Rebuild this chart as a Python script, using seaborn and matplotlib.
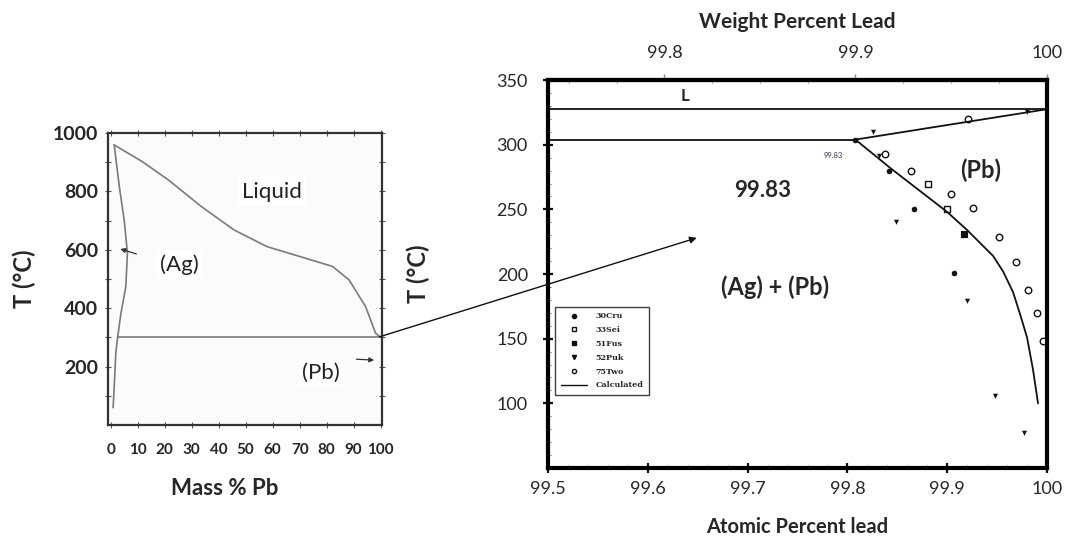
import matplotlib
matplotlib.use("Agg")
import matplotlib.pyplot as plt
import seaborn as sns
import numpy as np
from matplotlib.patches import ConnectionPatch
from matplotlib.lines import Line2D
from matplotlib.ticker import MultipleLocator, FixedLocator

# ── left panel: Ag-Pb phase diagram (mass % Pb) ──────────────────────────────
LIQ_X = [1.3, 11.7, 21.4, 33.6, 45.7, 57.9, 70.1, 82.2, 88.3, 94.4, 98.1, 99.5]
LIQ_T = [959, 902, 839, 748, 668, 611, 577, 543, 497, 406, 315, 304]
AG_SOLIDUS_X = [1.3, 3.2, 5.0, 6.2, 5.6, 3.8, 2.6]
AG_SOLIDUS_T = [959, 816, 702, 589, 474, 383, 303]
AG_SOLVUS_X = [2.6, 1.9, 1.3, 0.9]
AG_SOLVUS_T = [303, 247, 132, 60]
EUT_LEFT_X = [2.6, 100]
EUT_LEFT_T = [303, 303]

# ── right panel: Pb-rich corner (atomic % Pb) ────────────────────────────────
PB_MELT_X = [99.5, 100]
PB_MELT_T = [327.5, 327.5]
EUT_X = [99.5, 99.808]
EUT_T = [304, 304]
LIQUIDUS_X = [99.808, 100]
LIQUIDUS_T = [304, 327.5]
SOLVUS_X = [99.808, 99.843, 99.9, 99.92, 99.946, 99.956, 99.966, 99.973, 99.98, 99.986, 99.991]
SOLVUS_T = [304, 282, 248, 234, 214, 202, 186, 169, 151, 126, 100]

CRU_X = [99.808, 99.842, 99.867, 99.907]
CRU_T = [304, 280, 250, 201]
SEI_X = [99.881, 99.9]
SEI_T = [270, 250]
FUS_X = [99.917]
FUS_T = [231]
PUK_X = [99.826, 99.832, 99.849, 99.92, 99.948, 99.977, 99.98]
PUK_T = [310, 291, 240, 179, 106, 77, 325.5]
TWO_X = [99.838, 99.864, 99.904, 99.926, 99.952, 99.969, 99.981, 99.99, 99.996, 99.921]
TWO_T = [293, 280, 262, 251, 229, 209, 188, 170, 148, 320]

WT_TICKS = [99.8, 99.9, 100]


def at_to_wt(a):
    a = np.asarray(a, dtype=float)
    return 100 * a * 207.2 / (a * 207.2 + (100 - a) * 107.87)


def wt_to_at(w):
    w = np.asarray(w, dtype=float)
    return 100 * (w / 207.2) / (w / 207.2 + (100 - w) / 107.87)


sns.set_theme(style="ticks")
plt.rcParams["font.family"] = ["Lato", "DejaVu Sans"]

fig = plt.figure(figsize=(10.65, 5.45), dpi=100)
ax1 = fig.add_axes([0.1014, 0.22, 0.2573, 0.536])
ax2 = fig.add_axes([0.5146, 0.1413, 0.4685, 0.7117])

# ── left panel ───────────────────────────────────────────────────────────────
gray = "#7a7a7a"
ax1.set_facecolor("#fbfbfb")
for xs, ts in [(LIQ_X, LIQ_T), (AG_SOLIDUS_X, AG_SOLIDUS_T),
               (AG_SOLVUS_X, AG_SOLVUS_T), (EUT_LEFT_X, EUT_LEFT_T)]:
    sns.lineplot(x=xs, y=ts, sort=False, color=gray, lw=1.2, ax=ax1, estimator=None)
ax1.set_xlim(-1, 100.5)
ax1.set_ylim(0, 1000)
ax1.set_xticks(range(0, 101, 10))
ax1.set_xticklabels([str(v) for v in range(0, 101, 10)], fontsize=11, fontweight="bold")
ax1.set_yticks(range(100, 1001, 100))
ax1.set_yticklabels([str(v) if v % 200 == 0 else "" for v in range(100, 1001, 100)],
                    fontsize=14, fontweight="bold")
ax1.tick_params(axis="both", direction="inout", length=4, width=0.8, color="#555555",
                top=True, right=True, pad=5)
ax1.tick_params(axis="x", pad=11)
for sp in ax1.spines.values():
    sp.set_color("#333333")
    sp.set_linewidth(1.6)
ax1.set_ylabel("T (\u00b0C)", fontsize=17, fontweight="bold")
ax1.yaxis.set_label_coords(-0.263, 0.5)
ax1.set_xlabel("Mass % Pb", fontsize=16, fontweight="bold")
ax1.xaxis.set_label_coords(0.427, -0.18)

box = dict(facecolor="white", edgecolor="none", pad=3)
ax1.text(59.7, 799, "Liquid", fontsize=16, ha="center", va="center", color="#222222", bbox=box)
ax1.text(25.6, 549, "(Ag)", fontsize=16, ha="center", va="center", color="#222222", bbox=box)
ax1.text(78, 178, "(Pb)", fontsize=16, ha="center", va="center", color="#222222", bbox=box)
ax1.annotate("", xy=(2.6, 606), xytext=(10.5, 583),
             arrowprops=dict(arrowstyle="-|>", color="#333333", lw=0.9, mutation_scale=7))
ax1.annotate("", xy=(98.6, 222), xytext=(90, 226),
             arrowprops=dict(arrowstyle="-|>", color="#333333", lw=0.9, mutation_scale=7))

# ── right panel ──────────────────────────────────────────────────────────────
for xs, ts in [(PB_MELT_X, PB_MELT_T), (EUT_X, EUT_T), (LIQUIDUS_X, LIQUIDUS_T),
               (SOLVUS_X, SOLVUS_T)]:
    sns.lineplot(x=xs, y=ts, sort=False, color="#111111", lw=1.3, ax=ax2, estimator=None)

ms = 22
sns.scatterplot(x=CRU_X, y=CRU_T, marker="o", color="#111111", s=ms, ax=ax2, linewidth=0.6)
sns.scatterplot(x=SEI_X, y=SEI_T, marker="s", facecolor="white", edgecolor="#111111",
                s=ms, ax=ax2, linewidth=1.0)
sns.scatterplot(x=FUS_X, y=FUS_T, marker="s", color="#111111", s=ms + 8, ax=ax2, linewidth=0.6)
sns.scatterplot(x=PUK_X, y=PUK_T, marker="v", color="#111111", s=ms, ax=ax2, linewidth=0.6)
sns.scatterplot(x=TWO_X, y=TWO_T, marker="o", facecolor="white", edgecolor="#111111",
                s=ms, ax=ax2, linewidth=1.0)

ax2.set_xlim(99.5, 100)
ax2.set_ylim(50, 350)
ax2.set_xticks([99.5, 99.6, 99.7, 99.8, 99.9, 100])
ax2.set_xticklabels(["99.5", "99.6", "99.7", "99.8", "99.9", "100"], fontsize=13)
ax2.set_yticks([100, 150, 200, 250, 300, 350])
ax2.set_yticklabels(["100", "150", "200", "250", "300", "350"], fontsize=13)
ax2.xaxis.set_minor_locator(MultipleLocator(0.02))
ax2.yaxis.set_minor_locator(MultipleLocator(10))
ax2.tick_params(axis="both", which="major", direction="inout", length=7, width=1.6,
                color="#111111", pad=6)
ax2.tick_params(axis="y", which="major", pad=11)
ax2.tick_params(axis="both", which="minor", direction="in", length=2.5, width=0.6,
                color="#555555")
for sp in ax2.spines.values():
    sp.set_color("#000000")
    sp.set_linewidth(3.0)
ax2.set_ylabel("T (\u00b0C)", fontsize=17, fontweight="bold")
ax2.yaxis.set_label_coords(-0.236, 0.5)
ax2.set_xlabel("Atomic Percent lead", fontsize=14.5, fontweight="bold")
ax2.xaxis.set_label_coords(0.5, -0.126)

top = ax2.secondary_xaxis("top", functions=(at_to_wt, wt_to_at))
top.set_xticks(WT_TICKS)
top.set_xticklabels(["99.8", "99.9", "100"], fontsize=13)
top.xaxis.set_minor_locator(FixedLocator(list(np.arange(99.75, 100.0, 0.025))))
top.tick_params(axis="x", which="major", direction="out", length=4, width=1.0,
                color="#888888", pad=10)
top.tick_params(axis="x", which="minor", direction="in", length=2.5, width=0.6,
                color="#777777")
top.set_xlabel("Weight Percent Lead", fontsize=15, fontweight="bold", labelpad=12)
top.spines["top"].set_linewidth(3.0)

ax2.text(99.637, 338, "L", fontsize=12, fontweight="bold", ha="center", va="center")
ax2.text(99.786, 292, "99.83", fontsize=5.5, ha="center", va="center", color="#333355")
ax2.text(99.715, 265, "99.83", fontsize=16, fontweight="bold", ha="center", va="center")
ax2.text(99.933, 280, "(Pb)", fontsize=17, fontweight="bold", ha="center", va="center")
ax2.text(99.727, 190, "(Ag) + (Pb)", fontsize=17, fontweight="bold", ha="center", va="center")

handles = [
    Line2D([], [], ls="none", marker="o", color="#111111", ms=3, label="30Cru"),
    Line2D([], [], ls="none", marker="s", mfc="white", mec="#111111", ms=3, label="33Sei"),
    Line2D([], [], ls="none", marker="s", color="#111111", ms=3, label="51Fus"),
    Line2D([], [], ls="none", marker="v", color="#111111", ms=3, label="52Puk"),
    Line2D([], [], ls="none", marker="o", mfc="white", mec="#111111", ms=3, label="75Two"),
    Line2D([], [], color="#111111", lw=1.0, label="Calculated"),
]
leg = ax2.legend(handles=handles, loc="lower left", bbox_to_anchor=(0.014, 0.188),
                 prop={"family": "DejaVu Serif", "weight": "bold", "size": 5.8},
                 frameon=True, fancybox=False, edgecolor="#111111", handlelength=3.3,
                 labelspacing=0.72, borderpad=0.7, handletextpad=1.0, borderaxespad=0)
leg.get_frame().set_linewidth(1.0)

# ── arrow linking the two panels ─────────────────────────────────────────────
con = ConnectionPatch(xyA=(99.5, 302), coordsA=ax1.transData,
                      xyB=(99.649, 228), coordsB=ax2.transData,
                      arrowstyle="-|>", color="#111111", lw=1.0, mutation_scale=10)
fig.add_artist(con)

fig.savefig("out.png", dpi=100)
